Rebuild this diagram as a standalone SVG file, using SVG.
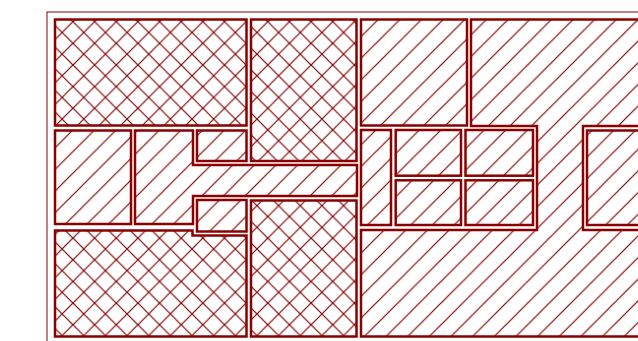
<svg xmlns="http://www.w3.org/2000/svg" width="638" height="341" viewBox="0 0 638 341">
<style>
.o{stroke:#8b0000;stroke-width:2.5;stroke-linejoin:miter}
.h{fill:url(#hatch)}
.x{fill:url(#cross)}
.hl{stroke:#800000;stroke-width:1.2;fill:none}
</style>
<defs>
<pattern id="hatch" patternUnits="userSpaceOnUse" x="8" y="0" width="21.65" height="21.65">
<rect width="21.65" height="21.65" fill="#fff"/>
<path class="hl" d="M-1,22.65 L22.65,-1 M-1,1 L1,-1 M20.65,22.65 L22.65,20.65"/>
</pattern>
<pattern id="cross" patternUnits="userSpaceOnUse" x="8" y="0" width="21.65" height="21.65">
<rect width="21.65" height="21.65" fill="#fff"/>
<path class="hl" d="M-1,22.65 L22.65,-1 M-1,1 L1,-1 M20.65,22.65 L22.65,20.65 M-1,-1 L22.65,22.65 M20.65,-1 L22.65,1 M-1,20.65 L1,22.65"/>
</pattern>
</defs>
<rect width="638" height="341" fill="#fff"/>
<rect id="frame" x="47" y="12" width="700" height="400" fill="none" stroke="#8b0000" stroke-width="1"/>
<g id="A"><rect class="o x" x="55" y="19.5" width="191.5" height="106"/></g>
<g id="B"><rect class="o x" x="251" y="19.5" width="105.5" height="141.5"/></g>
<g id="H"><rect class="o h" x="361" y="19.5" width="106" height="106"/></g>
<g id="I"><path class="o h" fill-rule="evenodd" d="M471,19.5 H650 V336.5 H361 V230 H537 V126 H471 Z M583,126 H655 V230 H583 Z"/></g>
<g id="L"><rect class="o h" x="587" y="130.5" width="70" height="94.5"/></g>
<g id="J"><rect class="o h" x="361" y="130" width="30" height="95"/></g>
<g id="K1"><rect class="o h" x="395.7" y="130" width="65.3" height="45.7"/></g>
<g id="K2"><rect class="o h" x="465.5" y="130" width="67.5" height="45.7"/></g>
<g id="K3"><rect class="o h" x="395.7" y="180.3" width="65.3" height="44.7"/></g>
<g id="K4"><rect class="o h" x="465.5" y="180.3" width="67.5" height="44.7"/></g>
<g id="C"><rect class="o h" x="55" y="130.5" width="76" height="93.5"/></g>
<g id="D"><path class="o h" d="M135,130.5 H193 V165 H357 V196 H193 V224 H135 Z"/></g>
<g id="E1"><rect class="o h" x="197" y="130.5" width="49.5" height="30.5"/></g>
<g id="E2"><rect class="o h" x="197" y="200" width="49.5" height="31.5"/></g>
<g id="F"><path class="o x" d="M55,230.5 H192.5 V235.5 H246.5 V336.5 H55 Z"/></g>
<g id="G"><rect class="o x" x="251" y="200.5" width="105.5" height="136"/></g>
</svg>
